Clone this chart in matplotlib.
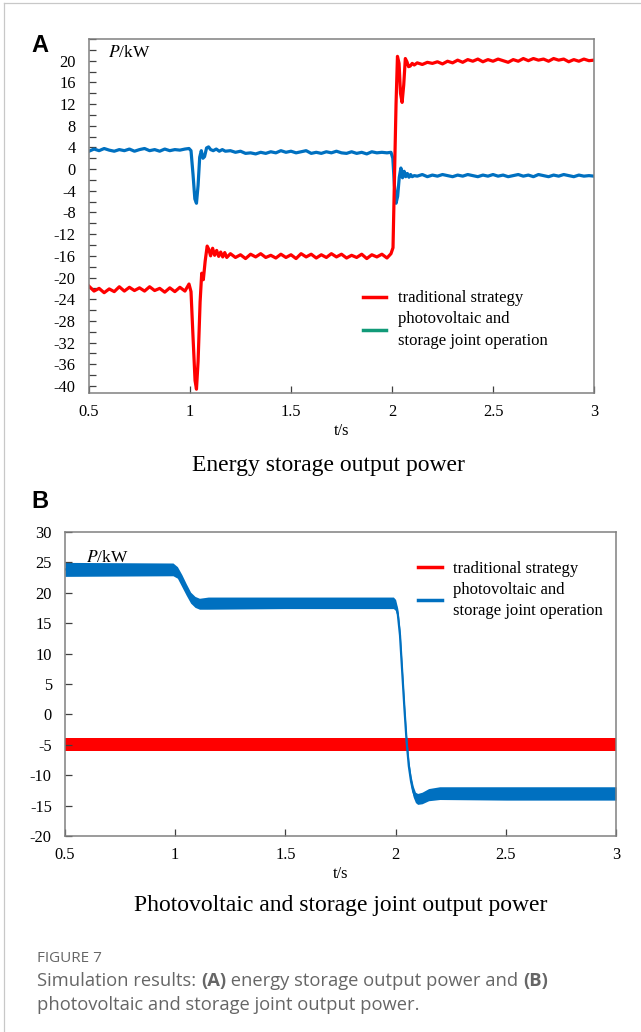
import matplotlib
matplotlib.use("Agg")
import matplotlib.pyplot as plt
from matplotlib.ticker import MultipleLocator
from matplotlib.lines import Line2D
import numpy as np

# ---------------- data: (A) energy storage output power ----------------
# ripple segments sampled on an even time grid, transients at explicit times
red_a_seg1 = [-21.6, -22.5, -22.0, -22.8, -22.1, -22.6, -21.7, -22.5, -21.8, -22.4,
              -21.9, -22.5, -21.7, -22.4, -22.0, -22.7, -21.9, -22.6, -21.8, -22.5]
red_a_tr1_t = [0.995, 1.005, 1.015, 1.025, 1.032, 1.040, 1.050, 1.058, 1.066, 1.075,
               1.085, 1.093, 1.102, 1.112, 1.122, 1.132, 1.142, 1.152, 1.162, 1.172, 1.182]
red_a_tr1 = [-21.2, -22.6, -31.0, -39.0, -40.6, -35.5, -24.5, -19.2, -20.4, -17.0,
             -14.2, -14.8, -16.0, -14.6, -15.9, -15.0, -16.1, -15.3, -16.2, -15.4, -16.3]
red_a_seg2 = [-15.6, -16.3, -15.8, -16.5, -15.7, -16.2, -15.6, -16.3, -15.9, -16.4,
              -15.7, -16.3, -15.8, -16.5, -15.6, -16.2, -15.7, -16.4, -15.8, -16.3,
              -15.6, -16.2, -15.7, -16.4, -15.9, -16.3, -15.7, -16.5, -15.8, -16.2,
              -15.7, -16.4]
red_a_tr2_t = [1.995, 2.005, 2.012, 2.020, 2.027, 2.035, 2.042, 2.050, 2.058, 2.066,
               2.074, 2.082, 2.090, 2.100, 2.110]
red_a_tr2 = [-15.6, -14.5, -2.0, 12.0, 20.8, 19.5, 14.0, 12.3, 15.5, 20.4,
             19.8, 18.9, 19.0, 19.5, 19.2]
red_a_seg3 = [19.6, 19.3, 19.7, 19.5, 19.8, 19.4, 19.9, 19.6, 20.1, 19.7,
              20.2, 19.9, 20.3, 19.8, 20.2, 19.9, 20.3, 20.0, 19.7, 20.2,
              19.9, 20.4, 20.0, 20.4, 20.1, 20.3, 19.9, 20.4, 20.1, 20.3,
              19.8, 20.2, 19.9, 20.3, 20.0, 20.1]

blue_a_seg1 = [3.3, 3.7, 3.4, 3.8, 3.5, 3.3, 3.6, 3.4, 3.7, 3.3,
               3.6, 3.8, 3.4, 3.6, 3.3, 3.7, 3.4, 3.6, 3.5, 3.7]
blue_a_tr1_t = [0.995, 1.005, 1.015, 1.024, 1.032, 1.040, 1.048, 1.056, 1.064, 1.072,
                1.082, 1.092, 1.102, 1.115, 1.130, 1.145, 1.160, 1.175]
blue_a_tr1 = [3.8, 3.4, -1.0, -5.5, -6.3, -3.0, 2.2, 3.4, 2.0, 2.3,
              3.9, 4.1, 3.6, 3.4, 3.7, 3.3, 3.6, 3.3]
blue_a_seg2 = [3.4, 3.1, 3.3, 2.9, 3.0, 2.8, 3.1, 2.9, 3.2, 3.0,
               3.4, 3.1, 3.3, 3.0, 3.2, 3.4, 2.9, 3.1, 2.9, 3.2,
               3.0, 3.3, 3.0, 2.9, 3.2, 2.9, 3.1, 2.8, 3.2, 3.0,
               3.1, 3.0]
blue_a_tr2_t = [1.995, 2.004, 2.012, 2.020, 2.028, 2.036, 2.044, 2.052, 2.060, 2.068,
                2.076, 2.084, 2.092, 2.100, 2.110]
blue_a_tr2 = [3.1, 2.0, -3.0, -6.3, -5.0, -1.5, 0.2, -1.6, -0.4, -1.4,
              -0.8, -1.5, -1.0, -1.4, -1.2]
blue_a_seg3 = [-1.3, -1.0, -1.4, -1.1, -1.3, -1.0, -1.2, -1.4, -1.1, -1.3,
               -1.0, -1.2, -1.4, -1.1, -1.3, -1.0, -1.3, -1.1, -1.4, -1.2,
               -1.0, -1.3, -1.1, -1.4, -1.0, -1.2, -1.4, -1.1, -1.3, -1.0,
               -1.2, -1.4, -1.1, -1.3, -1.2, -1.3]

# ---------------- data: (B) PV + storage joint output power ----------------
blue_b_t = [0.50, 0.99, 1.01, 1.03, 1.05, 1.07, 1.09, 1.11, 1.15, 1.50, 1.99, 2.00,
            2.01, 2.02, 2.03, 2.04, 2.05, 2.06, 2.07, 2.08, 2.09, 2.10, 2.12, 2.15,
            2.20, 2.50, 3.00]
blue_b_lo = [22.7, 22.8, 22.4, 21.0, 19.6, 18.3, 17.6, 17.3, 17.3, 17.4, 17.4, 17.1,
             15.6, 12.1, 6.1, 0.1, -5.4, -9.4, -11.9, -13.6, -14.5, -14.8, -14.7, -14.2,
             -14.0, -14.1, -14.1]
blue_b_hi = [25.0, 24.9, 24.3, 23.0, 21.5, 20.1, 19.4, 19.1, 19.3, 19.3, 19.3, 18.9,
             17.4, 13.9, 7.9, 1.9, -3.6, -7.6, -10.1, -11.8, -12.8, -13.0, -12.8, -12.2,
             -11.9, -11.9, -11.9]
red_b_t = [0.50, 1.00, 1.50, 2.00, 2.50, 3.00]
red_b_lo = [-6.0, -6.0, -6.0, -6.0, -6.0, -6.0]
red_b_hi = [-3.9, -3.9, -3.9, -3.9, -3.9, -3.9]

legend_labels = ["traditional strategy", "photovoltaic and\nstorage joint operation"]

RED = "#ff0000"
BLUE = "#0070c0"
GREEN = "#119a78"
SPINE = "#808080"

plt.rcParams["axes.unicode_minus"] = False
plt.rcParams["font.family"] = "Liberation Serif"

W, H = 641, 1032
fig = plt.figure(figsize=(W / 100, H / 100), dpi=100)


def px(x0, y0, x1, y1):
    # figure rect from pixel box (top-left origin)
    return [x0 / W, 1 - y1 / H, (x1 - x0) / W, (y1 - y0) / H]


def style_axes(ax):
    for s in ax.spines.values():
        s.set_color(SPINE)
        s.set_linewidth(1.1)
    ax.tick_params(which="both", direction="in", top=False, right=False,
                   color="#404040", width=0.9, labelsize=11.8, labelcolor="black")
    ax.tick_params(axis="y", which="both", length=5, pad=9.5)
    ax.tick_params(axis="x", which="major", length=5, pad=8)
    ax.set_xlim(0.5, 3.0)
    ax.set_xticks([0.5, 1, 1.5, 2, 2.5, 3])
    ax.set_xticklabels(["0.5", "1", "1.5", "2", "2.5", "3"])
    ax.set_xlabel("t/s", fontsize=11.8, labelpad=2)


def add_legend(ax, handles, anchor):
    leg = ax.legend(handles, legend_labels, loc="upper left", bbox_to_anchor=anchor,
                    frameon=False, fontsize=12, borderpad=0, borderaxespad=0,
                    handlelength=1.4, handletextpad=0.7, labelspacing=0.3)
    for t in leg.get_texts():
        t.set_linespacing(1.45)
    return leg


# ---------------- panel A ----------------
axA = fig.add_axes(px(89, 39, 594, 393))
red_t = np.concatenate([np.linspace(0.5, 0.975, len(red_a_seg1)), red_a_tr1_t,
                        np.linspace(1.2, 1.975, len(red_a_seg2)), red_a_tr2_t,
                        np.linspace(2.125, 3.0, len(red_a_seg3))])
red_v = np.concatenate([red_a_seg1, red_a_tr1, red_a_seg2, red_a_tr2, red_a_seg3])
blue_t = np.concatenate([np.linspace(0.5, 0.975, len(blue_a_seg1)), blue_a_tr1_t,
                         np.linspace(1.2, 1.975, len(blue_a_seg2)), blue_a_tr2_t,
                         np.linspace(2.125, 3.0, len(blue_a_seg3))])
blue_v = np.concatenate([blue_a_seg1, blue_a_tr1, blue_a_seg2, blue_a_tr2, blue_a_seg3])
axA.plot(blue_t, blue_v, color=BLUE, lw=2.3, solid_joinstyle="round")
axA.plot(red_t, red_v, color=RED, lw=2.3, solid_joinstyle="round")
style_axes(axA)
axA.set_ylim(-41.3, 24)
axA.yaxis.set_minor_locator(MultipleLocator(2))
axA.set_yticks(np.arange(-40, 21, 4))
axA.text(19 / 505, 0.96, "$\\it{P}$/kW", transform=axA.transAxes, fontsize=12.5,
         va="center", ha="left", math_fontfamily="stix")
add_legend(axA, [Line2D([], [], color=RED, lw=2.5), Line2D([], [], color=GREEN, lw=2.5)],
           (0.542, 0.29))

# ---------------- panel B ----------------
axB = fig.add_axes(px(65, 532, 616, 836))
axB.fill_between(red_b_t, red_b_lo, red_b_hi, color=RED, lw=0)
axB.fill_between(blue_b_t, blue_b_lo, blue_b_hi, color=BLUE, lw=0)
axB.plot(blue_b_t, [(a + b) / 2 for a, b in zip(blue_b_lo, blue_b_hi)], color=BLUE, lw=1.6)
style_axes(axB)
axB.set_ylim(-20, 30)
axB.set_yticks(np.arange(-20, 31, 5))
axB.text(21 / 551, 0.915, "$\\it{P}$/kW", transform=axB.transAxes, fontsize=12.5,
         va="center", ha="left", math_fontfamily="stix")
add_legend(axB, [Line2D([], [], color=RED, lw=2.5), Line2D([], [], color=BLUE, lw=2.5)],
           (0.641, 0.906))

# ---------------- panel letters and titles ----------------
fig.text(31 / W, 1 - 45 / H, "A", fontsize=17, fontweight="bold",
         family="Liberation Sans", va="center", ha="left")
fig.text(31 / W, 1 - 501 / H, "B", fontsize=17, fontweight="bold",
         family="Liberation Sans", va="center", ha="left")
fig.text(328 / W, 1 - 465 / H, "Energy storage output power", fontsize=17,
         ha="center", va="center")
fig.text(341 / W, 1 - 906 / H, "Photovoltaic and storage joint output power",
         fontsize=17, ha="center", va="center")

# page frame lines
fig.add_artist(Line2D([4 / W, 4 / W], [0, 1 - 3 / H], color="#c8c8c8", lw=0.9))
fig.add_artist(Line2D([4 / W, 1], [1 - 3 / H, 1 - 3 / H], color="#c8c8c8", lw=0.9))

# ---------------- caption ----------------
CAP = "#666666"
fig.text(37 / W, 1 - 958 / H, "FIGURE 7", fontsize=11, color=CAP,
         family="Open Sans", va="center", ha="left")
renderer = fig.canvas.get_renderer()


def run_text(x, y, parts):
    # place consecutive text pieces (regular / bold) on one line
    for s, bold in parts:
        t = fig.text(x, y, s, fontsize=13.2, color=CAP, family="Open Sans",
                     fontweight="bold" if bold else "normal", va="center", ha="left")
        bb = t.get_window_extent(renderer)
        x = bb.x1 / W


run_text(37 / W, 1 - 981 / H, [("Simulation results: ", False), ("(A)", True),
                               (" energy storage output power and ", False), ("(B)", True)])
run_text(37 / W, 1 - 1005 / H, [("photovoltaic and storage joint output power.", False)])

fig.savefig("out.png", dpi=100)
